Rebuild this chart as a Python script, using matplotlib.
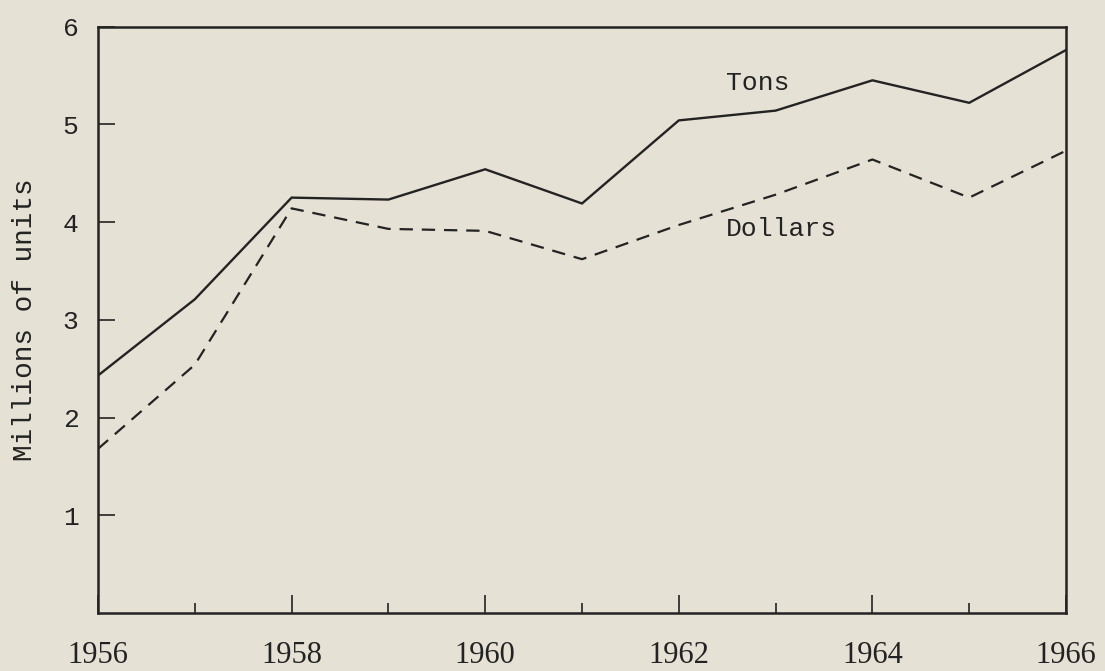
import matplotlib
matplotlib.use("Agg")
import matplotlib.pyplot as plt

years = [1956, 1957, 1958, 1959, 1960, 1961, 1962, 1963, 1964, 1965, 1966]
tons = [2.43, 3.21, 4.25, 4.23, 4.54, 4.19, 5.04, 5.14, 5.45, 5.22, 5.76]
dollars = [1.68, 2.54, 4.14, 3.93, 3.91, 3.62, 3.97, 4.28, 4.64, 4.25, 4.73]
major_years = [1956, 1958, 1960, 1962, 1964, 1966]
minor_years = [1957, 1959, 1961, 1963, 1965]
y_ticks = [1, 2, 3, 4, 5, 6]

bg = "#e5e1d5"
ink = "#232323"
mono = "Liberation Mono"
serif = "Liberation Serif"

fig = plt.figure(figsize=(11.05, 6.71), dpi=100, facecolor=bg)
ax = fig.add_axes([0.0887, 0.0864, 0.876, 0.874])
ax.set_facecolor(bg)

ax.plot(years, tons, color=ink, lw=1.7, solid_joinstyle="miter")
ax.plot(years, dollars, color=ink, lw=1.6, dashes=[6, 4])

ax.set_xlim(1956, 1966)
ax.set_ylim(0, 6)

ax.set_xticks(major_years)
ax.set_xticklabels([str(y) for y in major_years], fontfamily=serif, fontsize=22, color=ink)
ax.set_xticks(minor_years, minor=True)
ax.set_yticks(y_ticks)
ax.set_yticklabels([str(v) for v in y_ticks], fontfamily=mono, fontsize=19, color=ink)

ax.tick_params(axis="x", which="major", direction="in", length=13, width=1.2, pad=20, colors=ink)
ax.tick_params(axis="x", which="minor", direction="in", length=7, width=1.2, colors=ink)
ax.tick_params(axis="y", which="major", direction="in", length=12, width=1.2, pad=14, colors=ink)

for s in ax.spines.values():
    s.set_linewidth(1.8)
    s.set_color(ink)

ax.set_ylabel("Millions of units", fontfamily=mono, fontsize=20, color=ink, labelpad=18)

ax.text(1962.49, 5.42, "Tons", fontfamily=mono, fontsize=19, color=ink, ha="left", va="center")
ax.text(1962.49, 3.93, "Dollars", fontfamily=mono, fontsize=19, color=ink, ha="left", va="center")

fig.savefig("out.png", dpi=100, facecolor=bg)
